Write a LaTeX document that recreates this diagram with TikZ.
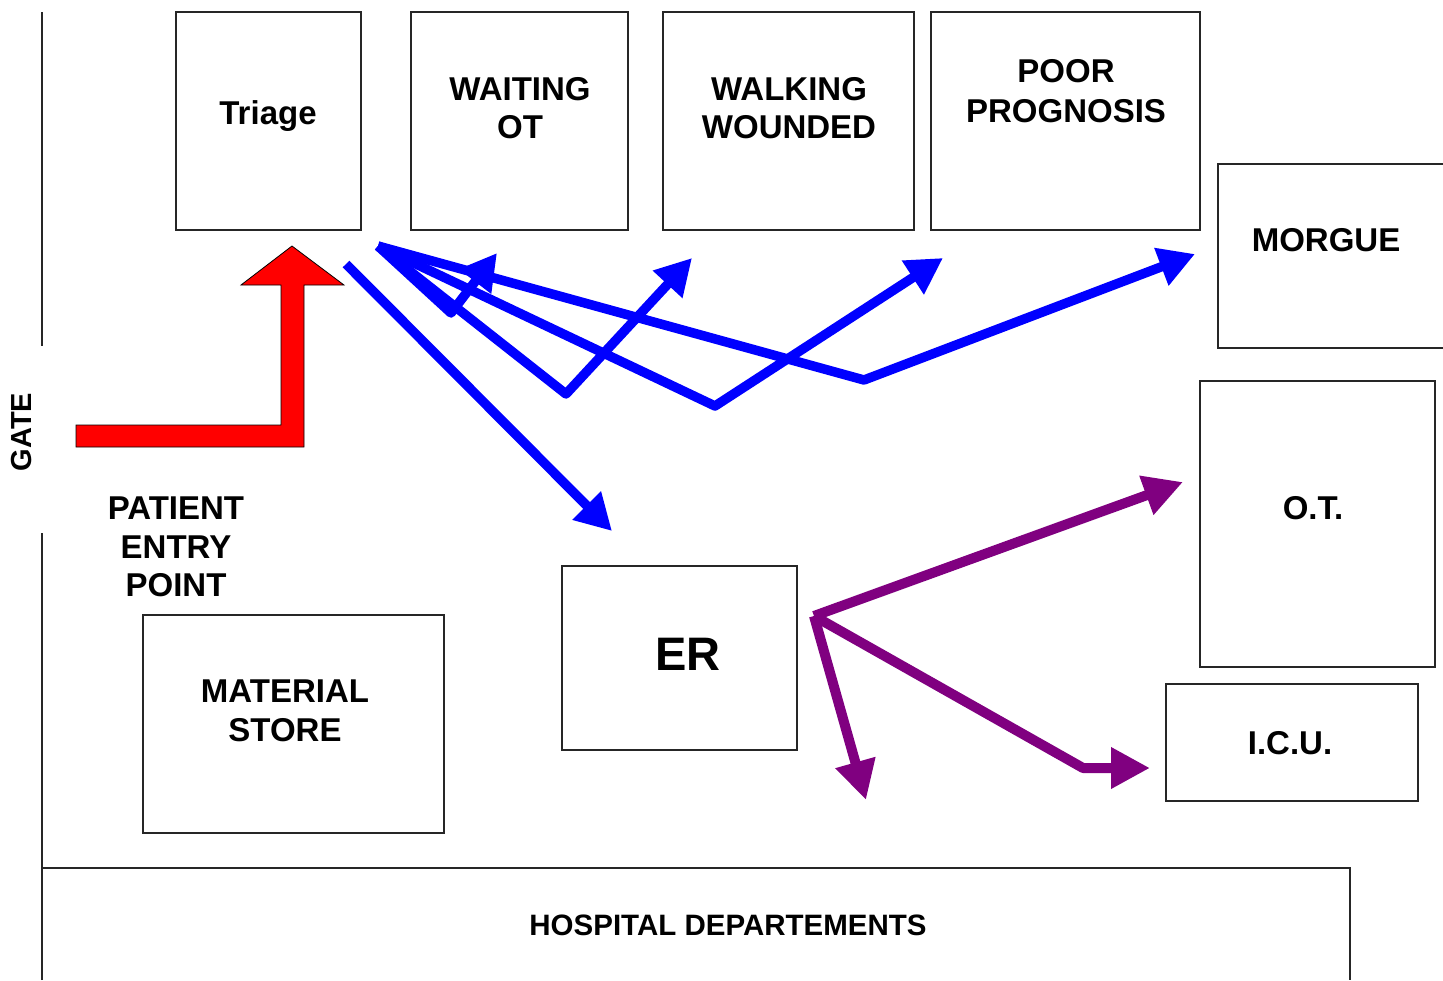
\documentclass[tikz,border=0pt]{standalone}
\usepackage{fontspec}
\setmainfont{Liberation Sans}
\usetikzlibrary{arrows.meta}
\definecolor{purp}{RGB}{128,0,128}
\begin{document}
\begin{tikzpicture}[x=1pt,y=-1pt,
  box/.style={draw=black!85, line width=1.2pt, inner sep=0pt},
  wall/.style={draw=black!85, line width=1.2pt},
  lbl/.style={font=\fontsize{33}{38.5}\selectfont\bfseries, align=center, inner sep=0pt},
  bluearr/.style={draw=blue, line width=9.5pt, line join=round, -{Triangle[length=36pt,width=38pt]}},
  purarr/.style={draw=purp, line width=10pt, line join=round, -{Triangle[length=39pt,width=39pt]}}]
\useasboundingbox (0,0) rectangle (1443,980);
\fill[white] (0,0) rectangle (1443,980);

% rooms
\node[box, minimum width=185pt, minimum height=218pt] (triage) at (268.5,121) {};
\node[box, minimum width=217pt, minimum height=218pt] (waiting) at (519.5,121) {};
\node[box, minimum width=251pt, minimum height=218pt] (walking) at (788.5,121) {};
\node[box, minimum width=269pt, minimum height=218pt] (poor) at (1065.5,121) {};
\node[box, minimum width=235pt, minimum height=286pt] (ot) at (1317.5,524) {};
\node[box, minimum width=252pt, minimum height=117pt] (icu) at (1292,742.5) {};
\node[box, minimum width=235pt, minimum height=184pt] (er) at (679.5,658) {};
\node[box, minimum width=301pt, minimum height=218pt] (store) at (293.5,724) {};
\draw[wall] (1443,164) -- (1218,164) -- (1218,348) -- (1443,348);
\draw[wall] (42,980) -- (42,868) -- (1350,868) -- (1350,980);
\draw[wall] (42,12) -- (42,346);
\draw[wall] (42,533) -- (42,868);

% labels
\node[lbl] (triageT) at (268,116) {Triage};
\node[lbl] (waitingT) at (520,108) {WAITING\\OT};
\node[lbl] (walkingT) at (789,108) {WALKING\\WOUNDED};
\node[lbl, font=\fontsize{33}{40}\selectfont\bfseries] (poorT) at (1066,91) {POOR\\PROGNOSIS};
\node[lbl] (morgueT) at (1326,240) {MORGUE};
\node[lbl] (otT) at (1313,508) {O.T.};
\node[lbl] (icuT) at (1290,743) {I.C.U.};
\node[lbl, font=\fontsize{47}{50}\selectfont\bfseries] (erT) at (688,654) {ER};
\node[lbl] (storeT) at (285,711) {MATERIAL\\STORE};
\node[lbl] (entryT) at (176,547) {PATIENT\\ENTRY\\POINT};
\node[lbl, font=\fontsize{29.5}{33}\selectfont\bfseries] (hospT) at (728,925) {HOSPITAL DEPARTEMENTS};
\node[lbl, font=\fontsize{29}{33}\selectfont\bfseries, rotate=90] (gateT) at (22,432) {GATE};

% red entry arrow
\draw[fill=red, draw=black, line width=0.8pt]
  (76,425) -- (281,425) -- (281,285) -- (241,285) -- (292,246) -- (344,285)
  -- (304,285) -- (304,447) -- (76,447) -- cycle;

% blue arrows from triage
\coordinate (bsrc) at (378,246);
\coordinate (erS) at (346,264);
\coordinate (erTip) at (612,531);
\coordinate (cWait) at (451,313);
\coordinate (tWait) at (497,253);
\coordinate (cWalk) at (566,394);
\coordinate (tWalk) at (692,258);
\coordinate (cPoor) at (715,406);
\coordinate (tPoor) at (943,258);
\coordinate (cMorg) at (864,380);
\coordinate (tMorg) at (1195,254);
\draw[bluearr] (erS) -- (erTip);
\draw[bluearr] (bsrc) -- (cWait) -- (tWait);
\draw[bluearr] (bsrc) -- (cWalk) -- (tWalk);
\draw[bluearr] (bsrc) -- (cPoor) -- (tPoor);
\draw[bluearr] (bsrc) -- (cMorg) -- (tMorg);

% purple arrows from ER
\coordinate (psrc) at (814,616);
\coordinate (tOT) at (1183,482);
\coordinate (tDown) at (866,800);
\coordinate (cICU) at (1083,768);
\coordinate (tICU) at (1150,768);
\draw[purarr] (psrc) -- (tOT);
\draw[purarr] (psrc) -- (tDown);
\draw[purarr] (psrc) -- (cICU) -- (tICU);
\end{tikzpicture}
\end{document}
